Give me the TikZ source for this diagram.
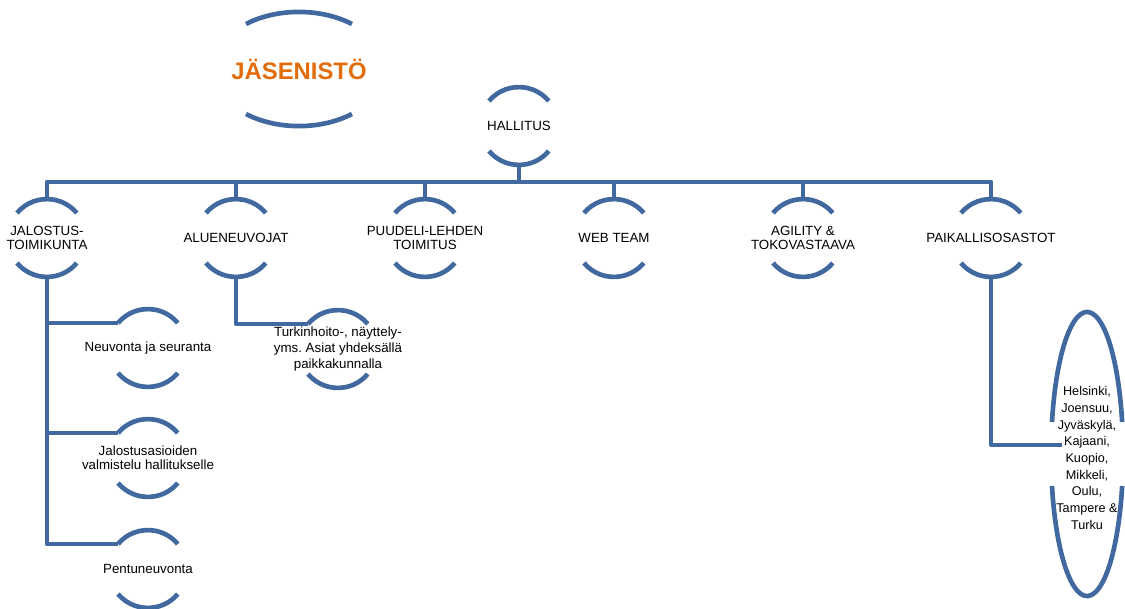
\documentclass[tikz,border=0pt]{standalone}
\usepackage{fontspec}
\setmainfont{Liberation Sans}
\frenchspacing
\definecolor{orgblue}{HTML}{41699F}
\definecolor{orgorange}{HTML}{E36C0A}
\tikzset{
  orgbox/.style={font=\fontsize{10}{10.8}\selectfont, align=center, minimum width=58.5pt, minimum height=58.5pt, inner sep=0pt, outer sep=0pt},
  arcline/.style={draw=orgblue, line width=3.5pt},
  conn/.style={draw=orgblue, line width=3.4pt, line join=round}
}
\begin{document}
\begin{tikzpicture}[x=0.75pt,y=-0.75pt]
\useasboundingbox (0,0) rectangle (1125,608);
% ylimmat
\node[font=\fontsize{17.9}{20}\selectfont\bfseries, text=orgorange, inner sep=0pt] (jasen) at (299,69) {JÄSENISTÖ};
\node[orgbox] (hall) at (519,126) {HALLITUS};
% toimikunnat
\node[orgbox] (jal) at (47,238) {JALOSTUS-\\TOIMIKUNTA};
\node[orgbox] (alue) at (236,238) {ALUENEUVOJAT};
\node[orgbox] (puud) at (425,238) {PUUDELI-LEHDEN\\TOIMITUS};
\node[orgbox] (web) at (614,238) {WEB TEAM};
\node[orgbox] (agil) at (803,238) {AGILITY \&\\TOKOVASTAAVA};
\node[orgbox] (paik) at (991,238) {PAIKALLISOSASTOT};
% alemmat
\node[orgbox] (neuv) at (148,348) {Neuvonta ja seuranta};
\node[orgbox] (jalv) at (148,458) {Jalostusasioiden\\valmistelu hallitukselle};
\node[orgbox] (pent) at (148,569) {Pentuneuvonta};
\node[orgbox, font=\fontsize{10}{11.7}\selectfont] (turk) at (338,349) {Turkinhoito-, näyttely-\\yms. Asiat yhdeksällä\\paikkakunnalla};
\node[orgbox, font=\fontsize{9.5}{12.5}\selectfont, minimum width=54pt, minimum height=213pt] (ost) at (1087,458)
  {Helsinki,\\Joensuu,\\Jyväskylä,\\Kajaani,\\Kuopio,\\Mikkeli,\\Oulu,\\Tampere \&\\Turku};
\coordinate (bus) at (519,182);

% kaaret
\draw[arcline] ([shift={(-53,-45)}]jasen.center) arc[start angle=128,end angle=52,x radius=64.5pt,y radius=42.75pt];
\draw[arcline] ([shift={(-53,45)}]jasen.center) arc[start angle=232,end angle=308,x radius=64.5pt,y radius=42.75pt];
\foreach \n in {hall,jal,alue,puud,web,agil,paik,neuv,jalv,pent,turk} {
  \draw[arcline] ([shift={(-30,-25)}]\n.center) arc[start angle=140,end angle=40,radius=29.25pt];
  \draw[arcline] ([shift={(-30,25)}]\n.center) arc[start angle=220,end angle=320,radius=29.25pt];
}
\draw[arcline] ([shift={(-35,-36)}]ost.center) arc[start angle=167,end angle=13,x radius=27pt,y radius=106.5pt];
\draw[arcline] ([shift={(-35,28)}]ost.center) arc[start angle=193,end angle=347,x radius=27pt,y radius=106.5pt];

% yhteydet
\foreach \n in {jal,alue,puud,web,agil,paik}
  \draw[conn] (hall.south) -- (hall.south |- bus) -| (\n.north);
\foreach \n in {neuv,jalv,pent}
  \draw[conn] (jal.south) |- ([shift={(-30,-25)}]\n.center);
\draw[conn] (alue.south) |- ([shift={(-30,-25)}]turk.center);
\draw[conn] (paik.south) |- ([shift={(-25,-13)}]ost.center);
\end{tikzpicture}
\end{document}
